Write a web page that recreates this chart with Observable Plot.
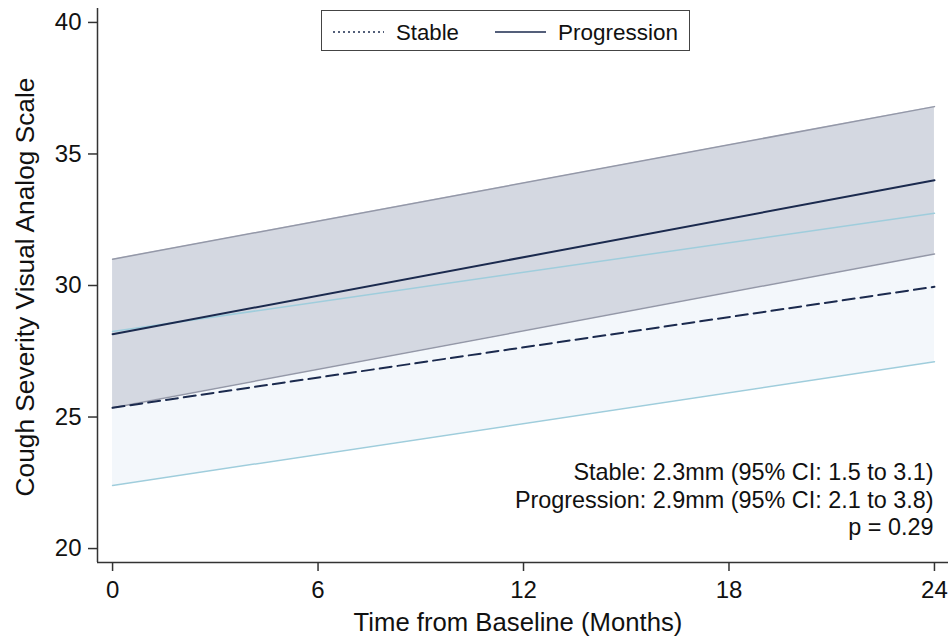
<!DOCTYPE html>
<html>
<head>
<meta charset="utf-8">
<script src="https://cdn.jsdelivr.net/npm/d3@7"></script>
<script src="https://cdn.jsdelivr.net/npm/@observablehq/plot@0.6"></script>
<style>
  html, body { margin: 0; padding: 0; background: #fff; }
  #wrap { position: relative; width: 951px; height: 639px; font-family: "Liberation Sans", Arial, sans-serif; }
  #legend { position: absolute; left: 321px; top: 10px; width: 369px; height: 41px; border: 1.5px solid #444; background: #fff; box-sizing: border-box; color: #111; }
  #legend svg { position: absolute; left: 0; top: 0; }
</style>
</head>
<body>
<div id="wrap"></div>
<script>
const months = [0, 24];
const stableMean = [25.35, 29.95];
const stableLo = [22.4, 27.1];
const stableHi = [28.25, 32.75];
const progMean = [28.15, 34.0];
const progLo = [25.35, 31.2];
const progHi = [31.0, 36.8];
const xTicks = [0, 6, 12, 18, 24];
const yTicks = [20, 25, 30, 35, 40];
const seriesNames = ["Stable", "Progression"];
const annotation = [
  "Stable: 2.3mm (95% CI: 1.5 to 3.1)",
  "Progression: 2.9mm (95% CI: 2.1 to 3.8)",
  "p = 0.29"
];
const xTitle = "Time from Baseline (Months)";
const yTitle = "Cough Severity Visual Analog Scale";

const rows = months.map((m, i) => ({
  m, sMean: stableMean[i], sLo: stableLo[i], sHi: stableHi[i],
  pMean: progMean[i], pLo: progLo[i], pHi: progHi[i]
}));

const navy = "#1b2a4e";
const xDom = [-0.44, 24.41];
const yDom = [19.47, 40.53];
const annDy = [-90, -62, -35];

const chart = Plot.plot({
  width: 951,
  height: 639,
  marginLeft: 97,
  marginTop: 8,
  marginBottom: 77,
  marginRight: 3,
  style: { fontFamily: "Liberation Sans, Arial, sans-serif", color: "#111", background: "#fff" },
  x: { domain: xDom, ticks: xTicks, tickFormat: d => d, label: null },
  y: { domain: yDom, ticks: yTicks, tickFormat: d => d, label: null },
  marks: [
    Plot.areaY(rows, { x: "m", y1: "sLo", y2: "sHi", fill: "#f3f7fb" }),
    Plot.areaY(rows, { x: "m", y1: "pLo", y2: "pHi", fill: "#d4d8e1" }),
    Plot.lineY(rows, { x: "m", y: "pHi", stroke: "#9498a8", strokeWidth: 1.5 }),
    Plot.lineY(rows, { x: "m", y: "pLo", stroke: "#9498a8", strokeWidth: 1.5 }),
    Plot.lineY(rows, { x: "m", y: "sHi", stroke: "#9fcddc", strokeWidth: 1.5 }),
    Plot.lineY(rows, { x: "m", y: "sLo", stroke: "#9fcddc", strokeWidth: 1.5 }),
    Plot.lineY(rows, { x: "m", y: "sMean", stroke: navy, strokeWidth: 2, strokeDasharray: "12,6" }),
    Plot.lineY(rows, { x: "m", y: "pMean", stroke: navy, strokeWidth: 2 }),
    Plot.ruleX([xDom[0]], { stroke: "#333", strokeWidth: 1.5 }),
    Plot.ruleY([yDom[0]], { stroke: "#333", strokeWidth: 1.5 }),
    Plot.axisX({ ticks: xTicks, tickSize: 9, tickPadding: 9, stroke: "#333", strokeWidth: 1.5, label: null, fontSize: 24 }),
    Plot.axisY({ ticks: yTicks, tickSize: 9, tickPadding: 7, stroke: "#333", strokeWidth: 1.5, label: null, fontSize: 24 }),
    ...annotation.map((s, i) => Plot.text([s], {
      text: d => d, frameAnchor: "bottom-right", textAnchor: "end", lineAnchor: "middle",
      dx: -15, dy: annDy[i], fontSize: 23.4, fill: "#111"
    }))
  ]
});
document.getElementById("wrap").appendChild(chart);

// enlarge tick labels (numeric texts)
chart.querySelectorAll("text").forEach(t => {
  if (/^\d+$/.test(t.textContent.trim())) {
    t.setAttribute("font-size", "24");
    t.style.fontSize = "24px";
    t.setAttribute("fill", "#111");
  }
});

function fit(node, target) {
  const len = node.getComputedTextLength();
  const fs = parseFloat(node.getAttribute("font-size"));
  if (len > 0) node.setAttribute("font-size", (fs * target / len).toFixed(2));
}

// axis titles
const svg = d3.select(chart);
const xt = svg.append("text")
  .attr("x", 518).attr("y", 622).attr("dy", "0.35em")
  .attr("text-anchor", "middle")
  .attr("font-size", 25).attr("fill", "#111")
  .text(xTitle);
fit(xt.node(), 329);
const yt = svg.append("text")
  .attr("transform", "translate(25,287) rotate(-90)").attr("dy", "0.35em")
  .attr("text-anchor", "middle")
  .attr("font-size", 25).attr("fill", "#111")
  .text(yTitle);
fit(yt.node(), 419);

// legend
const legend = d3.select("#wrap").append("div").attr("id", "legend");
const ls = legend.append("svg").attr("width", 369).attr("height", 41);
ls.append("line").attr("x1", 11).attr("x2", 62).attr("y1", 21).attr("y2", 21)
  .attr("stroke", navy).attr("stroke-width", 1.5).attr("stroke-dasharray", "2,3");
const t1 = ls.append("text").attr("x", 74).attr("y", 21).attr("dy", "0.35em").attr("font-size", 22.5).attr("fill", "#111").text(seriesNames[0]);
fit(t1.node(), 63);
ls.append("line").attr("x1", 173).attr("x2", 224).attr("y1", 21).attr("y2", 21)
  .attr("stroke", navy).attr("stroke-width", 1.5);
const t2 = ls.append("text").attr("x", 236).attr("y", 21).attr("dy", "0.35em").attr("font-size", 22.5).attr("fill", "#111").text(seriesNames[1]);
fit(t2.node(), 120);
</script>
</body>
</html>
